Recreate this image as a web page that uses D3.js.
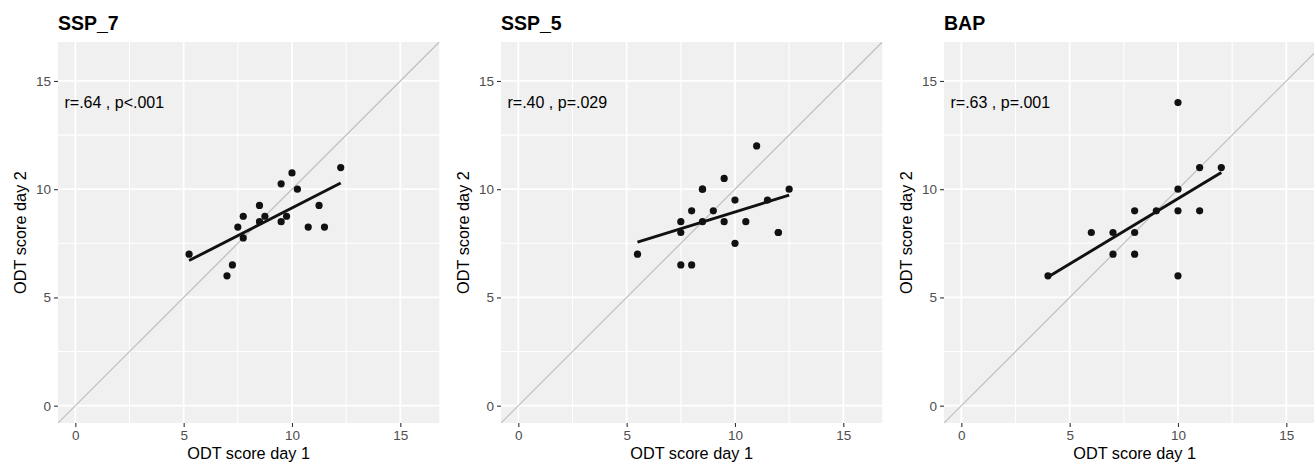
<!DOCTYPE html>
<html>
<head>
<meta charset="utf-8">
<script src="https://cdn.jsdelivr.net/npm/d3@7"></script>
<style>
  html, body { margin: 0; padding: 0; background: #fff; }
  svg { display: block; font-family: "Liberation Sans", Arial, Helvetica, sans-serif; }
</style>
</head>
<body>
<svg id="chart" width="1314" height="464"></svg>
<script>
// ---- data ----
const panelTitles = ["SSP_7", "SSP_5", "BAP"];
const annotations = ["r=.64 , p<.001", "r=.40 , p=.029", "r=.63 , p=.001"];
const xAxisTitle = "ODT score day 1";
const yAxisTitle = "ODT score day 2";
const tickValues = [0, 5, 10, 15];
const minorTickValues = [2.5, 7.5, 12.5];

const ssp7Day1 = [5.25, 7, 7.25, 7.5, 7.75, 7.75, 8.5, 8.5, 8.75, 9.5, 9.5, 9.75, 10, 10.25, 10.75, 11.25, 11.5, 12.25];
const ssp7Day2 = [7, 6, 6.5, 8.25, 8.75, 7.75, 9.25, 8.5, 8.75, 10.25, 8.5, 8.75, 10.75, 10, 8.25, 9.25, 8.25, 11];

// (overplotted duplicates estimated at 12/8 and 8.5/10)
const ssp5Day1 = [5.5, 7.5, 8, 7.5, 7.5, 8, 8.5, 8.5, 9, 9.5, 9.5, 10, 10, 10.5, 11, 11.5, 12, 12.5, 12, 8.5];
const ssp5Day2 = [7, 6.5, 6.5, 8.5, 8, 9, 10, 8.5, 9, 10.5, 8.5, 9.5, 7.5, 8.5, 12, 9.5, 8, 10, 8, 10];

const bapDay1 = [4, 6, 7, 7, 8, 8, 8, 9, 10, 10, 10, 10, 11, 11, 12];
const bapDay2 = [6, 8, 8, 7, 9, 8, 7, 9, 10, 9, 6, 14, 11, 9, 11];

const panelsData = [
  { title: panelTitles[0], note: annotations[0], x: ssp7Day1, y: ssp7Day2 },
  { title: panelTitles[1], note: annotations[1], x: ssp5Day1, y: ssp5Day2 },
  { title: panelTitles[2], note: annotations[2], x: bapDay1, y: bapDay2 }
];

// ---- layout ----
const svg = d3.select("#chart");
const panelLefts = [58, 501, 944];
const panelW = 381.3;
const panelTop = 42;
const panelH = 381;
const domain = [-0.8, 16.8];

function linreg(xs, ys) {
  const mx = d3.mean(xs), my = d3.mean(ys);
  let sxy = 0, sxx = 0;
  xs.forEach((x, i) => { sxy += (x - mx) * (ys[i] - my); sxx += (x - mx) * (x - mx); });
  const b = sxy / sxx;
  return { b, a: my - b * mx };
}

panelsData.forEach((p, pi) => {
  const left = panelLefts[pi];
  const x = d3.scaleLinear().domain(domain).range([left, left + panelW]);
  const y = d3.scaleLinear().domain(domain).range([panelTop + panelH, panelTop]);
  const g = svg.append("g");

  const clipId = "clip" + pi;
  g.append("clipPath").attr("id", clipId)
    .append("rect").attr("x", left).attr("y", panelTop).attr("width", panelW).attr("height", panelH);

  g.append("rect").attr("x", left).attr("y", panelTop).attr("width", panelW).attr("height", panelH)
    .attr("fill", "#F0F0F0");

  // minor grid
  minorTickValues.forEach(v => {
    g.append("line").attr("x1", x(v)).attr("x2", x(v)).attr("y1", panelTop).attr("y2", panelTop + panelH)
      .attr("stroke", "#fff").attr("stroke-width", 1.1);
    g.append("line").attr("y1", y(v)).attr("y2", y(v)).attr("x1", left).attr("x2", left + panelW)
      .attr("stroke", "#fff").attr("stroke-width", 1.1);
  });
  // major grid
  tickValues.forEach(v => {
    g.append("line").attr("x1", x(v)).attr("x2", x(v)).attr("y1", panelTop).attr("y2", panelTop + panelH)
      .attr("stroke", "#fff").attr("stroke-width", 1.8);
    g.append("line").attr("y1", y(v)).attr("y2", y(v)).attr("x1", left).attr("x2", left + panelW)
      .attr("stroke", "#fff").attr("stroke-width", 1.8);
  });

  const inner = g.append("g").attr("clip-path", `url(#${clipId})`);
  // identity line
  inner.append("line").attr("x1", x(domain[0])).attr("y1", y(domain[0]))
    .attr("x2", x(domain[1])).attr("y2", y(domain[1]))
    .attr("stroke", "#BEBEBE").attr("stroke-width", 1.2);

  // points
  inner.selectAll("circle.pt").data(p.x.map((v, i) => [v, p.y[i]])).enter()
    .append("circle").attr("class", "pt")
    .attr("cx", d => x(d[0])).attr("cy", d => y(d[1])).attr("r", 3.6)
    .attr("fill", "#111");

  // regression line
  const r = linreg(p.x, p.y);
  const x0 = d3.min(p.x), x1 = d3.max(p.x);
  inner.append("line").attr("x1", x(x0)).attr("y1", y(r.a + r.b * x0))
    .attr("x2", x(x1)).attr("y2", y(r.a + r.b * x1))
    .attr("stroke", "#111").attr("stroke-width", 2.9);

  // annotation
  g.append("text").attr("x", x(-0.5)).attr("y", y(14)).attr("dy", "0.36em")
    .attr("font-size", 16).attr("fill", "#000").text(p.note);

  // axes
  const xAxis = d3.axisBottom(x).tickValues(tickValues).tickSize(4).tickPadding(3);
  const xg = g.append("g").attr("transform", `translate(0,${panelTop + panelH})`).call(xAxis);
  const yAxis = d3.axisLeft(y).tickValues(tickValues).tickSize(4).tickPadding(3);
  const yg = g.append("g").attr("transform", `translate(${left},0)`).call(yAxis);
  [xg, yg].forEach(ax => {
    ax.select(".domain").remove();
    ax.selectAll(".tick line").attr("stroke", "#333").attr("stroke-width", 1.1);
    ax.selectAll(".tick text").attr("fill", "#4D4D4D").attr("font-size", 13.5)
      .attr("font-family", '"Liberation Sans", Arial, sans-serif');
  });

  // axis titles
  g.append("text").attr("x", left + panelW / 2).attr("y", 459)
    .attr("text-anchor", "middle").attr("font-size", 16.3).attr("fill", "#000").text(xAxisTitle);
  g.append("text").attr("transform", `translate(${left - 32},${panelTop + panelH / 2}) rotate(-90)`)
    .attr("text-anchor", "middle").attr("font-size", 16.3).attr("fill", "#000").text(yAxisTitle);

  // title
  g.append("text").attr("x", left).attr("y", 29.5)
    .attr("font-size", 19.5).attr("font-weight", "bold").attr("fill", "#000").text(p.title);
});
</script>
</body>
</html>
